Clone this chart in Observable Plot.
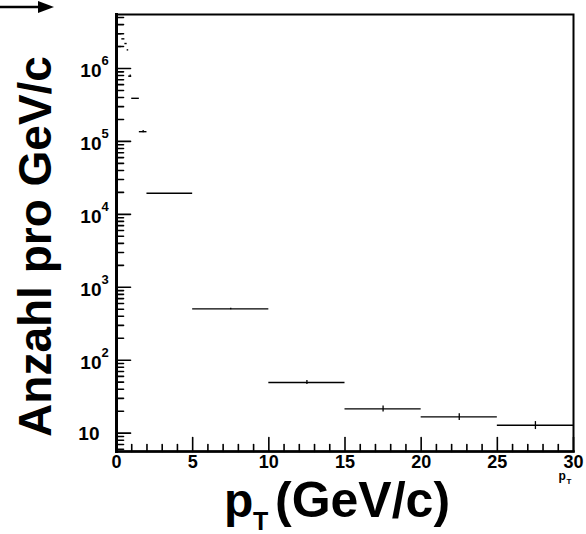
<!DOCTYPE html>
<html>
<head>
<meta charset="utf-8">
<script src="https://cdn.jsdelivr.net/npm/d3@7"></script>
<script src="https://cdn.jsdelivr.net/npm/@observablehq/plot@0.6"></script>
<style>
  html, body { margin: 0; padding: 0; background: white; }
  #wrap { position: relative; width: 586px; height: 534px; }
  #arrow { position: absolute; left: 0; top: 0; }
</style>
</head>
<body>
<div id="wrap"></div>
<script>
// ---- data ----
const binLo  = [0.1,   0.15,  0.35,   0.55,  0.7,   0.8,    1.0,   1.5,   2,      5,   10,   15,   20,   25];
const binHi  = [0.35,  0.33,  0.55,   0.7,   0.8,   1.0,    1.5,   2.0,   5,      10,  15,   20,   25,   30];
const counts = [3.0e6, 2.0e6, 2.55e6, 2.2e6, 1.8e6, 7.85e5, 3.9e5, 1.36e5, 1.95e4, 505, 49.5, 21.5, 16.7, 12.8];
const errors = [0,     0,     0,      0,     0,     3.0e4,  0,     5.0e3,  0,      12,  3,    2,    1.8,  1.6];

const xTickValues = [0, 5, 10, 15, 20, 25, 30];
const xTickLabels = ["0", "5", "10", "15", "20", "25", "30"];
const yTickValues = [10, 100, 1e3, 1e4, 1e5, 1e6];
const yTickExps   = ["", "2", "3", "4", "5", "6"];
const xTitle = ["p", "T", "(GeV/c)"];
const yTitle = "Anzahl pro GeV/c";

const bins = binLo.map((lo, i) => ({lo, hi: binHi[i], c: counts[i], e: errors[i]}));
const errBins = bins.filter(d => d.e > 0);

// minor ticks
const xMinor = d3.range(0, 31, 1).filter(v => v % 5 !== 0);
const yMinor = [];
for (const dec of [1, 10, 100, 1e3, 1e4, 1e5, 1e6]) for (let k = 2; k <= 9; k++) {
  const v = k * dec; if (v >= 5.6 && v <= 5.5e6) yMinor.push(v);
}

const tickShape = {draw(ctx, l) { ctx.moveTo(0, 0); ctx.lineTo(0, -l); }};
const font = "'Liberation Sans', Arial, Helvetica, sans-serif";

const chart = Plot.plot({
  width: 586, height: 534,
  marginLeft: 116, marginRight: 13, marginTop: 14, marginBottom: 83,
  x: {domain: [0, 30], axis: null},
  y: {type: "log", domain: [5.6, 5.5e6], axis: null},
  style: {fontFamily: font, background: "white", color: "black"},
  marks: [
    Plot.frame({stroke: "black", strokeWidth: 2}),
    // y ticks (inward)
    Plot.vector(yTickValues, {y: d => d, frameAnchor: "left", length: 14, rotate: 90, anchor: "start", shape: tickShape, stroke: "black", strokeWidth: 1.6}),
    Plot.vector(yMinor, {y: d => d, frameAnchor: "left", length: 7, rotate: 90, anchor: "start", shape: tickShape, stroke: "black", strokeWidth: 1.6}),
    // x ticks (inward)
    Plot.vector(xTickValues, {x: d => d, frameAnchor: "bottom", length: 14, rotate: 0, anchor: "start", shape: tickShape, stroke: "black", strokeWidth: 1.6}),
    Plot.vector(xMinor, {x: d => d, frameAnchor: "bottom", length: 7, rotate: 0, anchor: "start", shape: tickShape, stroke: "black", strokeWidth: 1.6}),
    // y axis thicker line
    Plot.frame({anchor: "left", stroke: "black", strokeWidth: 3}),
    Plot.frame({anchor: "bottom", stroke: "black", strokeWidth: 2.5}),
    // y tick labels
    Plot.text(yTickValues.filter((d, i) => yTickExps[i] !== ""), {y: d => d, frameAnchor: "left", text: () => "10", textAnchor: "end", lineAnchor: "bottom", dx: -15, dy: 9, fontSize: 19, fontWeight: "bold", fill: "black"}),
    Plot.text(yTickValues.filter((d, i) => yTickExps[i] === ""), {y: d => d, frameAnchor: "left", text: () => "10", textAnchor: "end", lineAnchor: "bottom", dx: -17, dy: 7, fontSize: 19, fontWeight: "bold", fill: "black"}),
    Plot.text(yTickValues, {y: d => d, frameAnchor: "left", text: yTickExps, textAnchor: "start", lineAnchor: "bottom", dx: -15, dy: -3, fontSize: 13, fontWeight: "bold", fill: "black"}),
    // x tick labels
    Plot.text(xTickValues, {x: d => d, frameAnchor: "bottom", text: xTickLabels, textAnchor: "middle", lineAnchor: "top", dy: 4, fontSize: 18, fontWeight: "bold", fill: "black"}),
    // histogram bins
    Plot.ruleY(bins, {y: "c", x1: "lo", x2: "hi", stroke: "black", strokeWidth: 1.4}),
    Plot.ruleX(errBins, {x: d => (d.lo + d.hi) / 2, y1: d => d.c - d.e, y2: d => d.c + d.e, stroke: "black", strokeWidth: 1.3}),
    // axis titles
    Plot.text([yTitle], {frameAnchor: "left", text: d => d, rotate: -90, textAnchor: "middle", lineAnchor: "bottom", dx: -66, dy: 13.5, fontSize: 46, fontWeight: "bold", fill: "black"}),
    Plot.text([xTitle[0]], {frameAnchor: "bottom", text: d => d, textAnchor: "start", lineAnchor: "bottom", dx: -121, dy: 65, fontSize: 48, fontWeight: "bold", fill: "black"}),
    Plot.text([xTitle[1]], {frameAnchor: "bottom", text: d => d, textAnchor: "start", lineAnchor: "bottom", dx: -92, dy: 78, fontSize: 25, fontWeight: "bold", fill: "black"}),
    Plot.text([xTitle[2]], {frameAnchor: "bottom", text: d => d, textAnchor: "start", lineAnchor: "bottom", dx: -70, dy: 65, fontSize: 50, fontWeight: "bold", fill: "black"}),
    // small p_T label below the axis end
    Plot.text(["p"], {frameAnchor: "bottom-right", text: d => d, textAnchor: "start", lineAnchor: "bottom", dx: -15, dy: 28, fontSize: 12, fontWeight: "bold", fill: "black"}),
    Plot.text(["T"], {frameAnchor: "bottom-right", text: d => d, textAnchor: "start", lineAnchor: "bottom", dx: -7, dy: 32, fontSize: 8, fontWeight: "bold", fill: "black"})
  ]
});
const wrap = document.getElementById("wrap");
wrap.appendChild(chart);
// arrow decoration at the top-left corner
const ns = "http://www.w3.org/2000/svg";
const arr = document.createElementNS(ns, "svg");
arr.setAttribute("id", "arrow"); arr.setAttribute("width", 80); arr.setAttribute("height", 20);
arr.innerHTML = '<line x1="0" y1="7" x2="44" y2="7" stroke="black" stroke-width="2.5"/><polygon points="38,1 54,7 38,13" fill="black"/>';
wrap.appendChild(arr);
</script>
</body>
</html>
